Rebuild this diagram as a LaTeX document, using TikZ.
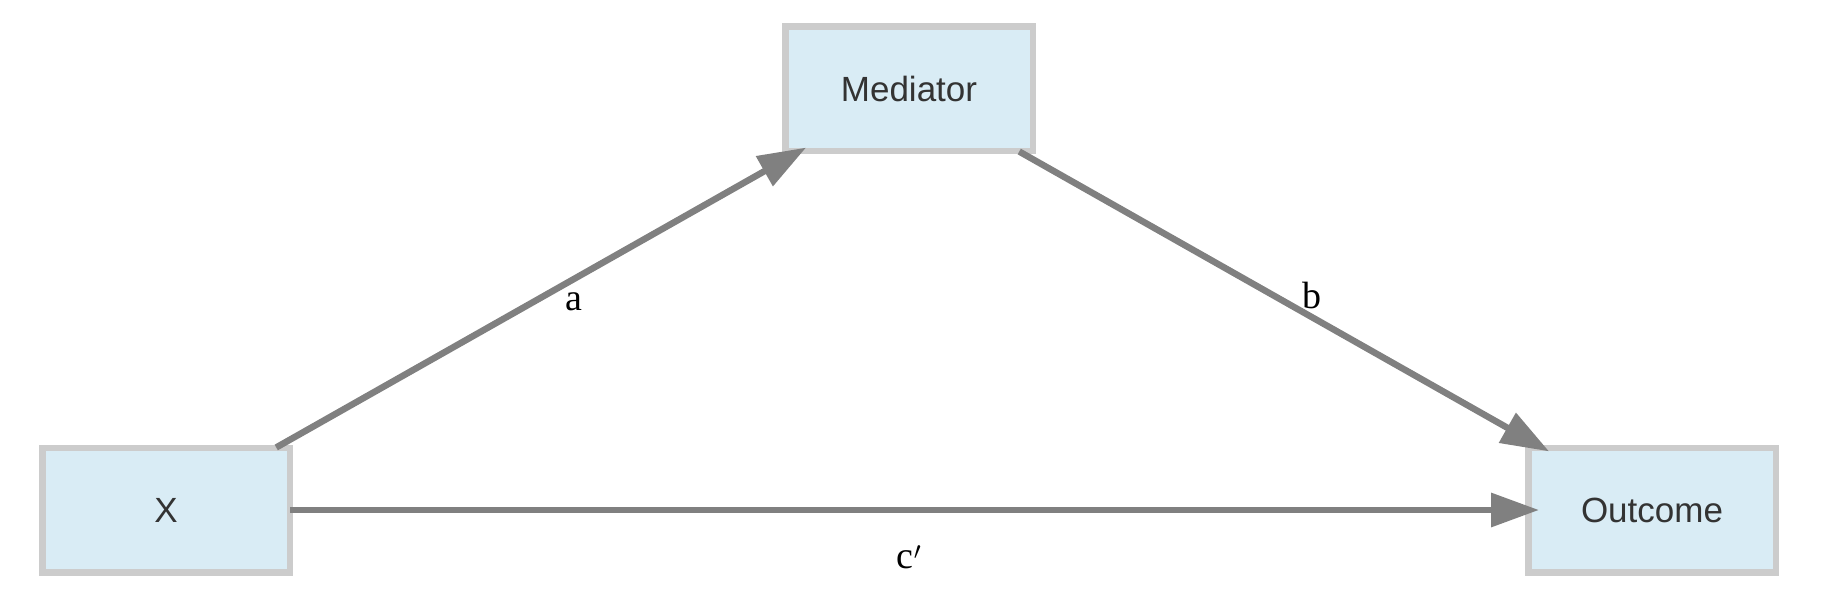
\documentclass[tikz,border=0pt]{standalone}
\usepackage{fontspec}
\setmainfont{Liberation Serif}
\newfontfamily\boxfont{Liberation Sans}
\usetikzlibrary{arrows.meta}
\definecolor{boxfill}{HTML}{D9ECF5}
\definecolor{boxline}{HTML}{CCCCCC}
\definecolor{arrcol}{HTML}{808080}
\definecolor{txtcol}{HTML}{333333}
\tikzset{
  varbox/.style={draw=boxline, fill=boxfill, line width=6.5pt,
    minimum width=247.5pt, minimum height=124.5pt, inner sep=0pt,
    text=txtcol, font=\boxfont\fontsize{35}{40}\selectfont},
  arr/.style={draw=arrcol, line width=6.5pt,
    -{Triangle[length=48pt,width=33pt]}, shorten >=-14pt},
  pathlbl/.style={font=\fontsize{38}{42}\selectfont, text=black, inner sep=0pt}
}
\begin{document}
\begin{tikzpicture}[x=1pt,y=1pt]
\useasboundingbox (0,0) rectangle (1840,-607);
\node[varbox] (X) at (166,-510) {X};
\node[varbox] (M) at (909,-89) {Mediator};
\node[varbox] (O) at (1652,-510) {Outcome};
\draw[arr, shorten <=-6pt] (X) -- (M);
\draw[arr, shorten <=-6pt] (M) -- (O);
\draw[arr, shorten <=-3pt] (X) -- (O);
\node[pathlbl] (la) at (574,-302) {a};
\node[pathlbl] (lb) at (1312,-296) {b};
\node[pathlbl] (lc) at (909,-557) {c$'$};
\end{tikzpicture}
\end{document}
